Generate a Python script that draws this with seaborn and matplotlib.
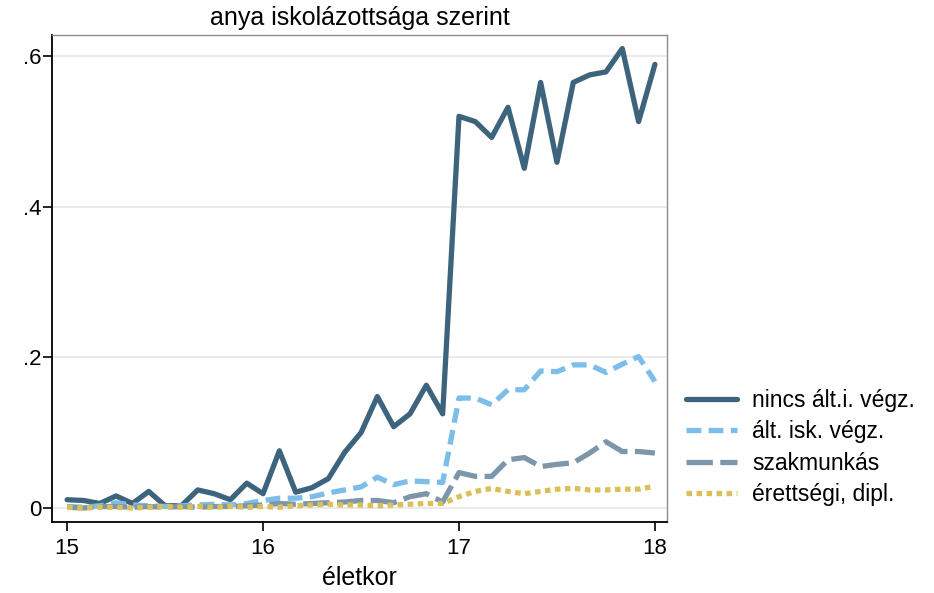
import numpy as np
import pandas as pd
import matplotlib
matplotlib.use("Agg")
import matplotlib.pyplot as plt
import seaborn as sns

# életkor havonta 15-18 között
honap = np.arange(37)
eletkor = 15 + honap / 12

nincs_alt = [0.011, 0.010, 0.006, 0.016, 0.006, 0.022, 0.003, 0.003, 0.024, 0.019,
             0.011, 0.033, 0.019, 0.076, 0.021, 0.027, 0.039, 0.074, 0.100, 0.148,
             0.108, 0.125, 0.163, 0.125, 0.520, 0.513, 0.492, 0.532, 0.451, 0.565,
             0.459, 0.565, 0.575, 0.579, 0.610, 0.513, 0.589]
alt_isk = [0.002, 0.001, 0.003, 0.007, 0.004, 0.003, 0.002, 0.003, 0.004, 0.005,
           0.004, 0.006, 0.010, 0.013, 0.013, 0.015, 0.020, 0.024, 0.028, 0.041,
           0.031, 0.036, 0.035, 0.034, 0.146, 0.146, 0.137, 0.157, 0.157, 0.182,
           0.181, 0.190, 0.190, 0.180, 0.191, 0.201, 0.168]
szakmunkas = [0.001, 0.000, 0.002, 0.002, 0.001, 0.002, 0.001, 0.002, 0.001, 0.002,
              0.002, 0.003, 0.004, 0.006, 0.005, 0.006, 0.007, 0.008, 0.010, 0.010,
              0.007, 0.015, 0.019, 0.008, 0.047, 0.042, 0.042, 0.064, 0.067, 0.055,
              0.058, 0.060, 0.073, 0.088, 0.075, 0.075, 0.073]
erettsegi = [0.001, 0.000, 0.001, 0.001, 0.000, 0.001, 0.002, 0.001, 0.002, 0.001,
             0.002, 0.001, 0.002, 0.001, 0.003, 0.004, 0.005, 0.004, 0.004, 0.003,
             0.004, 0.005, 0.006, 0.006, 0.015, 0.022, 0.026, 0.022, 0.019, 0.022,
             0.025, 0.026, 0.024, 0.024, 0.025, 0.025, 0.029]

csoportok = ["nincs ált.i. végz.", "ált. isk. végz.", "szakmunkás", "érettségi, dipl."]
szinek = ["#3e647d", "#7cbee9", "#7e96aa", "#dac05a"]
vonalak = ["", (2.8, 1.4), (5.0, 1.4), (1.05, 0.85)]

df = pd.DataFrame({"eletkor": eletkor, csoportok[0]: nincs_alt, csoportok[1]: alt_isk,
                   csoportok[2]: szakmunkas, csoportok[3]: erettsegi})
df_long = df.melt(id_vars="eletkor", var_name="csoport", value_name="arany")

sns.set_style("white")
plt.rcParams["font.family"] = ["Liberation Sans", "DejaVu Sans"]
plt.rcParams["text.color"] = "black"
plt.rcParams["axes.labelcolor"] = "black"
plt.rcParams["xtick.color"] = "black"
plt.rcParams["ytick.color"] = "black"

fig = plt.figure(figsize=(9.34, 5.93), dpi=100)
ax = fig.add_axes([0.0557, 0.1197, 0.6583, 0.8213])

# halvány rácsvonalak
for y in [0, 0.2, 0.4, 0.6]:
    ax.axhline(y, color="#e6e6e6", lw=1.2, zorder=0)

sns.lineplot(data=df_long, x="eletkor", y="arany", hue="csoport", style="csoport",
             hue_order=csoportok, style_order=csoportok,
             palette=dict(zip(csoportok, szinek)), dashes=dict(zip(csoportok, vonalak)),
             linewidth=3.8, ax=ax, legend=False)

ax.set_xlim(14.923, 18.061)
ax.set_ylim(-0.0186, 0.628)
ax.set_xticks([15, 16, 17, 18])
ax.set_yticks([0, 0.2, 0.4, 0.6])
ax.set_yticklabels(["0", ".2", ".4", ".6"])
ax.tick_params(axis="both", direction="out", length=6.5, width=1.2, labelsize=16,
               left=True, bottom=True, color="black", labelcolor="black")
ax.tick_params(axis="y", pad=1)
ax.tick_params(axis="x", pad=5)
ax.set_xlabel("életkor", fontsize=18, labelpad=5, color="black")
ax.set_ylabel("")
ax.set_title("anya iskolázottsága szerint", fontsize=18, pad=7, color="black")

for s in ["left", "bottom"]:
    ax.spines[s].set_color("black")
    ax.spines[s].set_linewidth(1.3)
for s in ["top", "right"]:
    ax.spines[s].set_color("#8c8c8c")
    ax.spines[s].set_linewidth(1.0)

handles = [plt.Line2D([], [], color=c, lw=3.8, dashes=d if d else (None, None))
           for c, d in zip(szinek, vonalak)]
fig.legend(handles, csoportok, loc="center left", bbox_to_anchor=(0.7345, 0.2454),
           frameon=False, fontsize=16.5, handlelength=2.23, handletextpad=0.65,
           labelspacing=0.37, borderpad=0, borderaxespad=0)

fig.savefig("out.png", dpi=100)
